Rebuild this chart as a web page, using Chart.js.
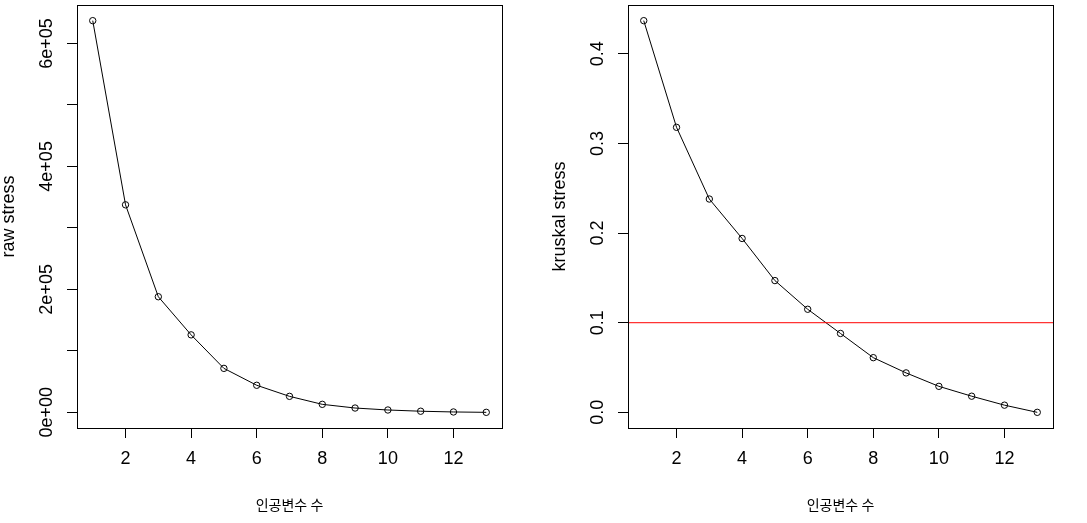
<!DOCTYPE html>
<html>
<head>
<meta charset="utf-8">
<script src="https://cdn.jsdelivr.net/npm/chart.js@4.4.0/dist/chart.umd.min.js"></script>
<style>
  html, body { margin: 0; padding: 0; background: #fff; overflow: hidden; }
  #wrap { position: relative; width: 1087px; height: 523px; }
  canvas { position: absolute; top: 0; }
</style>
</head>
<body>
<div id="wrap">
  <canvas id="rawChart" width="540" height="523" style="left:0px"></canvas>
  <canvas id="kruskalChart" width="540" height="523" style="left:551px"></canvas>
</div>
<script>
// dados
const dims = [1, 2, 3, 4, 5, 6, 7, 8, 9, 10, 11, 12, 13];
const rawStress = [637000, 337500, 188000, 126000, 71500, 44000, 26000, 13000, 7000, 3800, 1800, 600, 0];
const kruskalStress = [0.437, 0.318, 0.238, 0.194, 0.147, 0.115, 0.088, 0.061, 0.044, 0.029, 0.018, 0.008, 0.0];

const xTicks = [2, 4, 6, 8, 10, 12];
const rawTicks = [0, 100000, 200000, 300000, 400000, 500000, 600000];
const rawLabels = [0, 200000, 400000, 600000];
const kruskalTicks = [0, 0.1, 0.2, 0.3, 0.4];
const cutoff = 0.1;

const xTitle = '인공변수 수';
const font = '"Liberation Sans", Arial, sans-serif';

function sci(v) {
    if (v === 0) return '0e+00';
    const parts = v.toExponential().split('e');
    const n = parseInt(parts[1], 10);
    return parts[0] + 'e' + (n < 0 ? '-' : '+') + String(Math.abs(n)).padStart(2, '0');
}

// caixa, rótulos do eixo y (verticais) e linha de referência
function framePlugin(labels, fmt, refLine) {
    return {
        id: 'frame',
        afterDraw(chart) {
            const ctx = chart.ctx;
            const a = chart.chartArea;
            const y = chart.scales.y;
            ctx.save();
            if (refLine !== null) {
                const py = y.getPixelForValue(refLine);
                ctx.strokeStyle = '#ff0000';
                ctx.lineWidth = 1;
                ctx.beginPath();
                ctx.moveTo(a.left, py);
                ctx.lineTo(a.right, py);
                ctx.stroke();
            }
            ctx.strokeStyle = '#000';
            ctx.lineWidth = 1;
            ctx.strokeRect(a.left + 0.5, a.top + 0.5, a.right - a.left, a.bottom - a.top);
            ctx.fillStyle = '#000';
            ctx.font = '18px ' + font;
            ctx.textAlign = 'center';
            ctx.textBaseline = 'middle';
            labels.forEach(function (v) {
                ctx.save();
                ctx.translate(a.left - 30, y.getPixelForValue(v));
                ctx.rotate(-Math.PI / 2);
                ctx.fillText(fmt(v), 0, 0);
                ctx.restore();
            });
            ctx.restore();
        }
    };
}

function makeChart(id, values, yTicks, yLabels, fmt, yTitle, refLine) {
    const hi = Math.max(...values), lo = Math.min(...values);
    const yPad = (hi - lo) * 0.04;
    const xPad = (dims[dims.length - 1] - dims[0]) * 0.04;
    const ctx = document.getElementById(id).getContext('2d');
    return new Chart(ctx, {
        type: 'line',
        data: {
            datasets: [{
                data: dims.map((d, i) => ({ x: d, y: values[i] })),
                borderColor: '#000',
                borderWidth: 1,
                tension: 0,
                pointStyle: 'circle',
                pointRadius: 3.2,
                pointBorderWidth: 1,
                pointBorderColor: '#000',
                pointBackgroundColor: 'rgba(0,0,0,0)'
            }]
        },
        options: {
            responsive: false,
            animation: false,
            events: [],
            layout: { padding: { top: 5, right: 38, bottom: 0, left: 0 } },
            plugins: {
                legend: { display: false },
                tooltip: { enabled: false }
            },
            scales: {
                x: {
                    type: 'linear',
                    min: dims[0] - xPad,
                    max: dims[dims.length - 1] + xPad,
                    afterBuildTicks: function (scale) {
                        scale.ticks = xTicks.map(v => ({ value: v }));
                    },
                    afterFit: function (scale) { scale.height = 95; },
                    border: { display: false },
                    grid: { drawOnChartArea: false, drawTicks: true, tickLength: 10, color: '#000', lineWidth: 1 },
                    ticks: {
                        color: '#000',
                        padding: 10,
                        maxRotation: 0,
                        font: { family: font, size: 18 }
                    },
                    title: {
                        display: true,
                        text: xTitle,
                        color: '#000',
                        font: { family: '"Noto Sans CJK KR", sans-serif', size: 14 },
                        padding: { top: 0, bottom: 10 }
                    }
                },
                y: {
                    type: 'linear',
                    min: lo - yPad,
                    max: hi + yPad,
                    afterBuildTicks: function (scale) {
                        scale.ticks = yTicks.map(v => ({ value: v }));
                    },
                    afterFit: function (scale) { scale.width = 77; },
                    border: { display: false },
                    grid: { drawOnChartArea: false, drawTicks: true, tickLength: 10, color: '#000', lineWidth: 1 },
                    ticks: { display: false },
                    title: {
                        display: true,
                        text: yTitle,
                        color: '#000',
                        font: { family: font, size: 18, lineHeight: 1 },
                        padding: { top: 0, bottom: 0 }
                    }
                }
            }
        },
        plugins: [framePlugin(yLabels, fmt, refLine)]
    });
}

makeChart('rawChart', rawStress, rawTicks, rawLabels, sci, 'raw stress', null);
makeChart('kruskalChart', kruskalStress, kruskalTicks, kruskalTicks, v => v.toFixed(1), 'kruskal stress', cutoff);
</script>
</body>
</html>
